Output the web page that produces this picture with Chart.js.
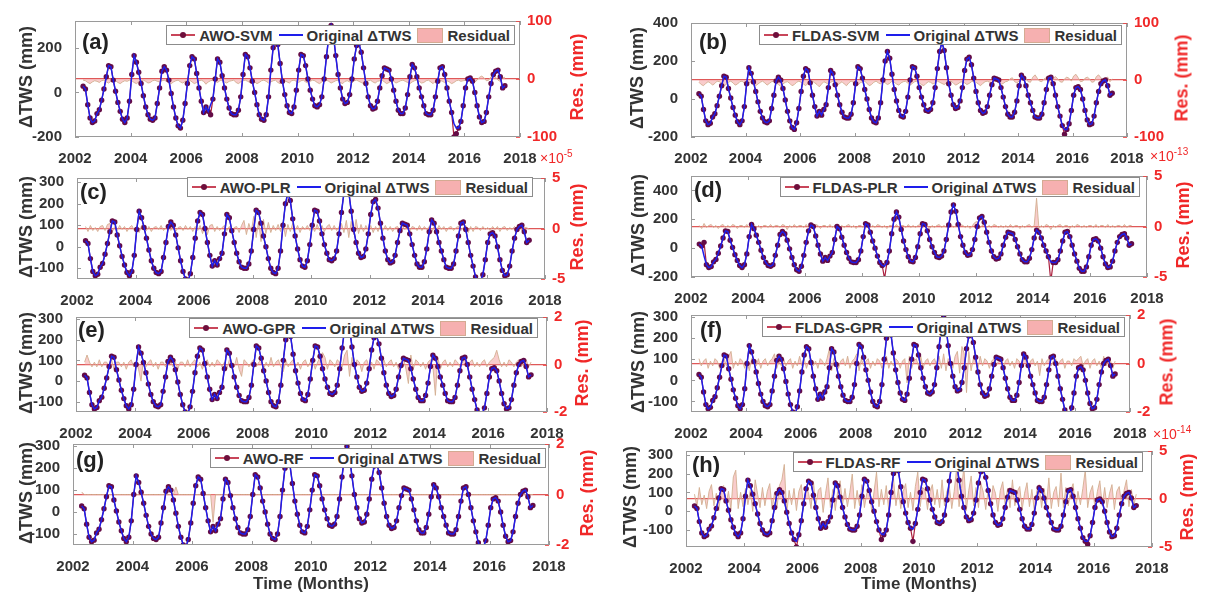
<!DOCTYPE html>
<html>
<head>
<meta charset="utf-8">
<script src="https://cdn.jsdelivr.net/npm/chart.js@4.4.1/dist/chart.umd.min.js"></script>
<style>
  body { margin: 0; width: 1207px; height: 594px; background: #fff; position: relative; overflow: hidden;
         font-family: "Liberation Sans", Arial, Helvetica, sans-serif; }
  canvas { position: absolute; }
  .leg { position: absolute; height: 20px; background: #fff; border: 1px solid #8c8c8c; box-sizing: border-box;
         display: flex; align-items: center; font-weight: bold; font-size: 15px; color: #333; padding: 0 4px 0 2px; white-space: nowrap; }
  .sm { position: relative; display: inline-block; width: 24px; height: 2px; background: rgb(200,70,90); margin: 0 4px 0 2px; }
  .sm i { position: absolute; left: 9px; top: -2px; width: 6px; height: 6px; border-radius: 50%; background: rgb(110,15,60); }
  .so { display: inline-block; width: 24px; height: 2px; background: rgb(30,30,235); margin: 0 4px 0 6px; }
  .sr { display: inline-block; width: 24px; height: 13px; background: #f6b0b0; border: 1px solid #d4aa92; margin: 0 4px 0 6px; }
  .tag { position: absolute; font-weight: bold; font-size: 22px; color: #222; transform: translateY(-50%); }
  .vt { position: absolute; font-weight: bold; font-size: 18px; white-space: nowrap; transform: translate(-50%, -50%) rotate(-90deg); }
  .xt { position: absolute; font-weight: bold; font-size: 17px; color: #333; white-space: nowrap; transform: translate(-50%, -50%); }
  .expo { position: absolute; font-size: 14px; color: rgb(240,40,40); white-space: nowrap; }
  .expo sup { font-size: 10px; }
</style>
</head>
<body>
<script>
// ---- data ----
var START_YEAR = 2002, START_MONTH = 4;   // first GRACE month (Apr 2002), monthly to Jun 2017
var X_TICKS = [2002, 2004, 2006, 2008, 2010, 2012, 2014, 2016, 2018];

// original ΔTWS (mm), one row per year
var TWS_ORIGINAL = [
  28, 15, -55, -115, -135, -128, -95, -78, -35,
  15, 70, 120, 115, 55, 5, -45, -85, -120, -135, -115, -40,
  80, 165, 135, 90, 40, -15, -65, -100, -120, -125, -115, -50,
  20, 95, 115, 100, 55, -5, -65, -115, -150, -160, -125, -50,
  40, 120, 160, 150, 85, 20, -40, -90, -65, -85, -55, -30,
  60, 150, 135, 75, 20, -30, -70, -95, -100, -100, -80, -20,
  80, 170, 160, 110, 50, 0, -55, -100, -120, -125, -100, -20,
  100, 200, 250, 215, 130, 50, -10, -60, -90, -95, -65, 10,
  100, 170, 165, 120, 60, 10, -30, -60, -65, -55, -20, 60,
  160, 250, 300, 255, 165, 80, 20, -30, -50, -45, -10, 60,
  150, 210, 220, 180, 110, 40, -20, -60, -75, -70, -40, 20,
  75, 110, 105, 100, 60, 10, -40, -80, -95, -95, -70, -10,
  70, 125, 110, 70, 20, -20, -60, -95, -100, -100, -80, -20,
  50, 110, 115, 80, 20, -40, -90, -140, -160, -160, -130, -60,
  20, 60, 65, 50, 0, -60, -110, -135, -130, -90, -20, 40,
  80, 95, 100, 70, 20, 30
];

// model predictions that visibly leave the original curve: [year, month, value]
var FIX_A = [[2006, 11, -100], [2008, 10, -125], [2015, 8, -200], [2015, 9, -185]];
var FIX_B = [[2015, 9, -185]];
var FIX_C = [];
var FIX_D = [[2002, 6, 40], [2008, 10, -210], [2014, 8, -230]];
var FIX_E = [];
var FIX_F = [];
var FIX_G = [];
var FIX_H = [[2005, 10, -190], [2008, 9, -150], [2009, 10, -160], [2015, 10, -175]];

// residuals (right axis units)
var RES_A = [
  -2, -3, -6, -8, -5, -3, -4, -6, -3,
  -2, -5, -7, -4, -2, -3, -6, -8, -5, -3, -4, -2,
  -3, -6, -8, -5, -3, -2, -4, -7, -6, -3, -2, -4,
  -5, -3, -2, -4, -6, -8, -5, -3, -2, -5, -7, -4,
  -3, -2, -5, -8, -6, -3, -2, -4, -9, -5, -3, -2,
  -4, -6, -3, -2, -5, -7, -4, -3, -2, -6, -8, -5,
  -3, -2, -4, -6, -3, -5, -8, -6, -3, -2, -4, -7,
  -5, -3, -2, -6, -8, -4, -3, -5, -7, -3, -2, -4,
  -6, -3, -2, -5, -7, -4, -2, -3, -6, -8, -5, -3,
  -2, -4, -7, -5, -3, -2, -6, -8, -4, -3, -5, -7,
  -3, -2, -4, -6, -8, -5, -3, -2, -5, -7, -4, -3,
  -2, -5, -8, -6, -3, -4, -7, -5, -3, -2, -4, -6,
  -8, -5, -3, -2, -4, -7, -6, -3, -2, -5, -8, -4,
  -3, -2, -4, -6, -3, -5, -8, -6, -3, -2, -4, -3,
  -2, 2, 4, -3, -5, -2, 3, 5, 2, -3, -2, 4,
  6, 3, -2, -4, 2, 3
];
var RES_B = [
  -4, -8, -10, -6, -3, -5, -9, -6, -2,
  -3, -6, -10, -8, -4, -2, -5, -9, -7, -3, -2, -6,
  -8, -5, -3, -6, -10, -7, -4, -2, -5, -9, -6, -3,
  -2, -5, -8, -11, -7, -4, -3, -6, -10, -8, -4, -2,
  -4, -7, -10, -6, -3, -2, -5, -8, -12, -7, -3, -5,
  -8, -4, -2, -5, -9, -6, -3, -7, -10, -5, -2, -4,
  -6, -9, -5, -3, -2, -6, -10, -8, -4, -2, -5, -7,
  -3, -5, -8, -6, -2, -4, -7, -9, -5, -3, -2, -6,
  -9, -6, -3, -2, -5, -8, -10, -6, -3, -4, -7, -5,
  -2, -4, -6, -8, -5, -3, -2, -5, -9, -7, -4, -3,
  -5, -8, -6, -3, -2, -4, -7, -10, -6, -3, -2, -4,
  -6, -3, -2, -5, -8, -6, -3, -2, 2, 4, -3, -5,
  -2, 3, 6, 2, -3, -4, 5, 9, 3, -2, -3, 2,
  4, -2, -5, 3, 6, 2, -3, -4, 2, 5, 3, -2,
  7, 10, 4, -3, -2, 3, 5, 2, -4, -3, 6, 9,
  4, -2, 3, 5, -3, 2
];
var RES_C = [
  0.2, -0.3, 0.3, -0.2, 0.1, -0.3, 0.2, 0.3, -0.2,
  0.4, 0.5, -0.3, 0.2, -0.2, 0.3, -0.1, 0.2, -0.3, 0.1, 0.3, -0.2,
  0.2, -0.4, 0.3, 0.1, -0.2, 0.2, -0.3, 0.1, 0.2, -0.1, 0.3, -0.2,
  0.1, 0.3, -0.2, 0.2, -0.3, 0.1, 0.2, -0.2, 0.3, -0.1, 0.2, -0.3,
  0.2, -0.2, 0.3, -0.5, 0.2, -0.6, 0.3, 0.4, -0.3, 0.2, -0.2, 0.1,
  0.3, -0.2, 0.2, -0.3, 0.1, 0.2, -0.4, 0.3, 0.8, -0.6, 0.5, -0.3,
  1.2, -0.9, 0.7, -1.3, 0.9, -0.5, 0.6, -0.4, 0.3, -0.2, 0.4, -0.3,
  0.6, -0.8, 0.4, -0.3, 0.5, -0.2, 0.3, -0.4, 0.2, -0.1, 0.3, -0.2,
  0.2, -0.3, 0.4, -0.2, 0.3, -0.3, 0.2, 0.4, -0.2, 0.3, -0.2, 0.2,
  0.5, -0.4, 0.8, -0.9, 0.7, -0.6, 0.9, -0.5, 0.4, -0.3, 0.3, -0.2,
  0.3, -0.4, 0.2, -0.3, 0.5, -0.2, 0.3, -0.2, 0.2, -0.3, 0.1, 0.2,
  -0.2, 0.3, -0.1, 0.2, -0.3, 0.2, 0.1, -0.2, 0.3, -0.2, 0.2, -0.1,
  0.2, -0.4, 0.2, -0.2, 0.3, -0.1, 0.2, -0.3, 0.1, 0.2, -0.2, 0.1,
  0.2, -0.2, 0.1, 0.3, -0.4, 0.2, -0.3, 0.2, 0.1, -0.2, 0.2, -0.1,
  0.1, -0.2, 0.2, -0.1, 0.2, -0.3, 0.1, 0.2, -0.2, 0.1, -0.1, 0.2,
  -0.1, 0.2, -0.2, 0.1, 0.1, -0.1
];
var RES_D = [
  0.1, -0.2, 0.3, -0.1, 0.1, 0.2, -0.1, 0.1, -0.2,
  0.1, 0.2, -0.1, 0.1, -0.1, 0.2, 0.1, -0.2, 0.1, 0.1, -0.1, 0.2,
  -0.1, 0.1, 0.2, -0.1, 0.1, -0.2, 0.1, 0.1, -0.1, 0.2, -0.1, 0.1,
  0.1, -0.1, 0.2, 0.1, -0.3, 0.1, -0.1, 0.2, -0.1, 0.1, 0.1, -0.1,
  0.2, -0.1, 0.1, -0.1, 0.2, 0.1, -0.2, 0.1, 0.1, -0.1, 0.2, -0.1,
  0.1, 0.2, -0.1, 0.1, -0.1, 0.1, 0.2, -0.1, 0.1, -0.2, 0.1, 0.1,
  -0.1, 0.2, 0.1, -0.1, 0.1, -0.1, 0.2, 0.1, -0.1, 0.1, -0.2, 0.1,
  0.1, -0.1, 0.2, -0.1, 0.1, 0.1, -0.1, 0.2, -0.1, 0.1, -0.1, 0.1,
  0.2, -0.1, 0.1, 0.1, -0.2, 0.1, -0.1, 0.1, 0.2, -0.1, 0.1, -0.1,
  0.1, 0.2, -0.1, 0.1, -0.1, 0.2, 0.1, -0.1, 0.1, -0.2, 0.1, 0.4,
  0.5, -0.2, 0.1, 0.2, -0.1, 0.1, -0.1, 0.2, 0.1, -0.1, 0.1, -0.1,
  0.1, -0.1, 0.2, -0.1, 0.1, 0.1, -0.2, 0.1, -0.1, 0.1, 0.2, -0.1,
  0.1, 2.8, -0.2, 0.1, -0.1, 0.2, 0.1, -0.3, 0.1, -0.1, 0.1, 0.2,
  -0.1, 0.1, 0.1, -0.2, 0.1, -0.1, 0.2, 0.1, -0.1, 0.1, -0.1, 0.1,
  0.1, -0.1, 0.2, -0.1, 0.1, 0.1, -0.1, 0.2, -0.1, 0.1, -0.1, 0.1,
  0.1, -0.1, 0.2, -0.1, 0.1, 0.1
];
var RES_E = [
  0.1, 0.4, 0.1, -0.1, 0.1, -0.1, 0.2, -0.1, 0.1,
  0.1, -0.1, 0.2, -0.2, 0.1, 0.1, -0.1, 0.1, -0.2, 0.1, 0.2, -0.1,
  0.1, -0.2, -0.7, 0.2, -0.1, 0.1, 0.2, -0.1, 0.1, -0.2, 0.1, 0.1,
  -0.1, 0.1, 0.2, -0.1, 0.1, -0.2, 0.1, 0.1, -0.1, 0.2, -0.1, 0.1,
  0.2, -0.1, 0.1, -0.2, 0.1, 0.2, -0.1, 0.1, -0.1, 0.2, 0.1, -0.1,
  0.1, -0.2, 0.2, 0.1, -0.1, 0.3, -0.2, -0.5, 0.2, 0.1, -0.1, 0.1,
  0.2, -0.1, 0.1, 0.2, -0.2, 0.1, -0.1, 0.3, -0.1, 0.1, 0.2, -0.1,
  -0.3, 0.2, -0.1, 0.1, 0.2, -0.1, 0.1, -0.2, 0.1, 0.2, -0.1, 0.1,
  0.2, -0.2, 0.1, 0.3, 0.5, 0.3, -0.2, 0.2, 0.1, -0.1, 0.2, 0.1,
  -0.1, 0.4, 0.6, -0.5, 0.3, -0.2, 0.2, 0.1, -0.3, 0.1, 0.2, -0.1,
  0.1, -0.2, 0.2, 0.1, -0.1, 0.2, -0.1, 0.1, 0.2, -0.1, 0.1, -0.2,
  0.1, 0.3, -0.2, -0.8, 0.4, -0.2, 0.2, 0.1, -0.1, 0.1, -0.2, 0.1,
  0.2, -0.1, -1.3, 0.3, -0.2, 0.1, 0.2, -0.1, 0.1, -0.1, 0.2, 0.1,
  -0.1, 0.1, 0.2, -0.1, 0.1, 0.2, -0.1, 0.1, -0.1, 0.1, 0.2, -0.1,
  0.1, 0.2, 0.3, 0.6, 0.2, -0.1, 0.1, -0.1, 0.2, 0.1, -0.1, 0.1,
  0.2, -0.1, 0.1, 0.2, -0.1, 0.1
];
var RES_F = [
  0.2, -0.1, 0.1, 0.2, -0.2, 0.1, -0.1, 0.2, 0.1,
  -0.2, 0.1, 0.2, -0.1, 0.3, 0.5, -0.2, 0.1, -0.1, 0.2, 0.1, -0.2,
  0.1, -0.3, 0.2, 0.1, -0.1, 0.2, -0.2, 0.1, 0.2, -0.1, 0.1, 0.2,
  0.4, -0.2, 0.1, -0.1, 0.2, -0.1, 0.1, 0.2, -0.2, 0.1, -0.1, 0.3,
  -0.1, 0.2, -0.2, 0.1, 0.2, -0.1, 0.1, -0.2, 0.2, 0.1, -0.1, 0.2,
  0.6, -0.3, 0.2, 0.1, -0.2, 0.1, 0.2, -0.1, 0.3, -0.2, 0.1, 0.2,
  0.4, -0.3, 0.2, -0.1, 0.1, 0.2, -0.2, 0.1, -0.1, 0.2, 0.1, -0.2,
  0.1, 0.3, -0.2, 0.1, -0.1, 0.2, 0.1, -0.2, 0.1, 0.2, -0.8, 0.3,
  -0.2, 0.1, 0.2, -0.1, 0.3, -0.2, 0.1, 0.2, -0.1, 0.1, 0.2, -0.1,
  0.3, -0.2, 0.4, -0.3, 0.2, 0.1, -0.2, 0.3, 0.5, -0.4, 0.7, 0.4,
  -1.2, 0.5, -0.3, 0.2, 0.1, -0.2, 0.3, -0.1, 0.2, 0.1, -0.2, 0.1,
  0.2, -0.1, 0.1, 0.3, -0.2, 0.1, 0.2, -0.1, 0.1, -0.2, 0.2, 0.1,
  -0.1, 0.2, 0.1, -0.2, 0.1, 0.2, -0.1, 0.1, -0.5, 0.2, -0.1, 0.1,
  0.2, -0.1, 0.1, 0.2, -0.1, 0.1, 0.2, -0.2, 0.1, 0.1, -0.1, 0.2,
  0.1, 0.2, 0.3, -0.1, 0.1, 0.2, -0.2, 0.1, 0.2, -0.1, 0.1, -0.2,
  0.3, -0.1, 0.2, 0.1, -0.2, 0.1
];
// (g) is flat apart from a few spikes: [year, month, value]
var RES_G_SPIKES = [[2002, 4, 0.1], [2005, 6, 0.3], [2006, 9, -1.1], [2009, 1, 0.05]];
var RES_H = [
  0.5, -0.8, 1.2, -0.6, 0.4, -1.0, 0.8, 1.5, -0.7,
  0.6, -1.2, 0.9, 1.4, -0.5, 0.8, -1.1, 2.3, 3.0, -1.0, 0.7, -0.8,
  1.1, -0.6, 0.9, -1.3, 2.0, 0.5, -0.9, 1.2, -0.7, 0.8, 1.6, -1.1,
  0.7, -0.9, 1.4, 2.0, 3.6, -1.5, 0.9, -0.6, 1.1, -1.2, 0.8, 1.5,
  -0.8, 1.3, 0.6, -1.0, 1.8, -0.7, 0.9, 1.2, -1.4, 0.6, 2.2, -0.9,
  1.0, -1.2, 0.8, 1.9, -0.6, 1.1, -0.8, 0.7, 2.6, -1.0, 0.9, -0.7,
  1.5, -0.9, 0.6, 1.2, -1.3, 0.8, 2.8, -0.8, 1.0, -0.6, 1.4, -1.1,
  0.9, 2.1, -0.7, 1.1, -1.0, 0.8, 1.6, -0.9, 0.7, -1.2, 1.3, 2.8,
  -0.8, 1.2, 0.9, -1.1, 0.7, 1.5, -0.6, 1.0, -0.9, 2.0, -0.7, 0.8,
  1.3, -1.0, 0.8, 3.2, -0.8, 1.1, 3.3, -1.2, 0.9, 2.4, -0.7, 1.2,
  -0.9, 1.6, 0.7, -1.1, 1.0, -0.8, 1.4, 0.6, -1.3, 0.9, 1.8, -0.6,
  1.1, -0.9, 2.0, -0.7, 0.8, 1.3, -1.1, 0.6, 1.7, -0.8, 1.0, -1.2,
  0.8, 1.5, -0.9, 1.1, -0.6, 2.2, -1.0, 0.7, 1.3, -0.8, 2.7, -0.9,
  1.2, -0.7, 0.9, 1.6, -1.2, 0.8, -0.6, 1.1, 3.0, -0.9, 0.7, 1.4,
  -1.0, 0.8, 1.9, -0.7, 1.2, -0.9, 0.6, 1.5, -1.1, 0.8, 1.3, -0.6,
  0.9, 2.0, -0.8, 1.0, -0.7, 0.5
];

var Y_TICKS_A = [-200, 0, 200];
var Y_TICKS_B = [-200, 0, 200, 400];
var Y_TICKS_C = [-100, 0, 100, 200, 300];
var Y_TICKS_D = [-200, 0, 200, 400];
var Y_TICKS_EFG = [-100, 0, 100, 200, 300];
var R_TICKS_SVM = [-100, 0, 100];
var R_TICKS_5 = [-5, 0, 5];
var R_TICKS_2 = [-2, 0, 2];

var PANELS = [
  { key: 'a', model: 'AWO-SVM',   fix: FIX_A, res: RES_A, yMin: -200, yMax: 320, yTicks: Y_TICKS_A,   rMax: 100, rTicks: R_TICKS_SVM, expo: null },
  { key: 'b', model: 'FLDAS-SVM', fix: FIX_B, res: RES_B, yMin: -200, yMax: 400, yTicks: Y_TICKS_B,   rMax: 100, rTicks: R_TICKS_SVM, expo: null },
  { key: 'c', model: 'AWO-PLR',   fix: FIX_C, res: RES_C, yMin: -150, yMax: 320, yTicks: Y_TICKS_C,   rMax: 5,   rTicks: R_TICKS_5,   expo: '-5' },
  { key: 'd', model: 'FLDAS-PLR', fix: FIX_D, res: RES_D, yMin: -200, yMax: 500, yTicks: Y_TICKS_D,   rMax: 5,   rTicks: R_TICKS_5,   expo: '-13' },
  { key: 'e', model: 'AWO-GPR',   fix: FIX_E, res: RES_E, yMin: -150, yMax: 310, yTicks: Y_TICKS_EFG, rMax: 2,   rTicks: R_TICKS_2,   expo: null },
  { key: 'f', model: 'FLDAS-GPR', fix: FIX_F, res: RES_F, yMin: -150, yMax: 310, yTicks: Y_TICKS_EFG, rMax: 2,   rTicks: R_TICKS_2,   expo: null },
  { key: 'g', model: 'AWO-RF',    fix: FIX_G, res: null,  yMin: -150, yMax: 310, yTicks: Y_TICKS_EFG, rMax: 2,   rTicks: R_TICKS_2,   expo: null },
  { key: 'h', model: 'FLDAS-RF',  fix: FIX_H, res: RES_H, yMin: -190, yMax: 320, yTicks: Y_TICKS_EFG, rMax: 5,   rTicks: R_TICKS_5,   expo: '-14' }
];

// ---- layout (page pixels) ----
var LAYOUT = {
  a: { x: 75,  y: 17,  w: 445, h: 120, leg: [515, 25],  tag: [82, 42],   tws: 26,  res: 577 },
  b: { x: 691, y: 19,  w: 436, h: 118, leg: [1122, 25], tag: [699, 42],  tws: 637, res: 1182 },
  c: { x: 77,  y: 174, w: 468, h: 105, leg: [533, 177], tag: [80, 192],  tws: 26,  res: 577,  expo: [540, 148] },
  d: { x: 691, y: 172, w: 456, h: 105, leg: [1140, 177], tag: [694, 190], tws: 638, res: 1183, expo: [1150, 146] },
  e: { x: 76,  y: 313, w: 471, h: 99,  leg: [538, 318], tag: [78, 330],  tws: 26,  res: 582 },
  f: { x: 691, y: 311, w: 439, h: 101, leg: [1125, 317], tag: [700, 330], tws: 638, res: 1167 },
  g: { x: 73,  y: 440, w: 476, h: 105, leg: [546, 448], tag: [76, 460],  tws: 26,  res: 587 },
  h: { x: 686, y: 447, w: 466, h: 100, leg: [1143, 452], tag: [692, 465], tws: 630, res: 1187, expo: [1153, 424] }
};
var PAD = { l: 75, r: 70, t: 12, b: 32 };
var FONT = '"Liberation Sans", Arial, Helvetica, sans-serif';
var RED = 'rgb(240,40,40)';

Chart.defaults.font.family = FONT;

function monthX(i) {
  return START_YEAR + (START_MONTH - 1 + i + 0.5) / 12;
}
function monthIndex(y, m) {
  return (y - START_YEAR) * 12 + (m - START_MONTH);
}
function toPoints(values) {
  return values.map(function (v, i) { return { x: monthX(i), y: v }; });
}

// MATLAB-like box with small inward ticks
var boxPlugin = {
  id: 'box',
  afterDatasetsDraw: function (chart) {
    var a = chart.chartArea, c = chart.ctx, s = chart.scales;
    c.save();
    c.strokeStyle = '#9a9a9a';
    c.lineWidth = 1;
    c.strokeRect(a.left + 0.5, a.top + 0.5, a.right - a.left - 1, a.bottom - a.top - 1);
    c.beginPath();
    s.x.ticks.forEach(function (t) {
      var px = Math.round(s.x.getPixelForValue(t.value)) + 0.5;
      c.moveTo(px, a.bottom); c.lineTo(px, a.bottom - 4);
      c.moveTo(px, a.top); c.lineTo(px, a.top + 4);
    });
    s.y.ticks.forEach(function (t) {
      var py = Math.round(s.y.getPixelForValue(t.value)) + 0.5;
      c.moveTo(a.left, py); c.lineTo(a.left + 4, py);
    });
    c.stroke();
    c.strokeStyle = 'rgba(240,60,60,0.8)';
    c.beginPath();
    s.y2.ticks.forEach(function (t) {
      var py = Math.round(s.y2.getPixelForValue(t.value)) + 0.5;
      c.moveTo(a.right, py); c.lineTo(a.right - 4, py);
    });
    c.stroke();
    c.restore();
  }
};

function addEl(cls, html, css) {
  var d = document.createElement('div');
  d.className = cls;
  d.innerHTML = html;
  for (var k in css) d.style[k] = css[k];
  document.body.appendChild(d);
  return d;
}

function makePanel(p) {
  var g = LAYOUT[p.key];
  var W = g.w + PAD.l + PAD.r, H = g.h + PAD.t + PAD.b;
  var cv = document.createElement('canvas');
  cv.width = W; cv.height = H;
  cv.style.left = (g.x - PAD.l) + 'px';
  cv.style.top = (g.y - PAD.t) + 'px';
  document.body.appendChild(cv);

  var model = TWS_ORIGINAL.slice();
  p.fix.forEach(function (f) { model[monthIndex(f[0], f[1])] = f[2]; });

  var res = p.res;
  if (!res) {
    res = TWS_ORIGINAL.map(function () { return 0; });
    RES_G_SPIKES.forEach(function (f) { res[monthIndex(f[0], f[1])] = f[2]; });
  }

  var tickFont = { size: 15, weight: 'bold' };

  new Chart(cv.getContext('2d'), {
    type: 'line',
    data: {
      datasets: [
        { label: 'Original ΔTWS', data: toPoints(TWS_ORIGINAL), yAxisID: 'y', order: 0,
          borderColor: 'rgb(30,30,235)', borderWidth: 1.5, pointRadius: 0, tension: 0 },
        { label: p.model, data: toPoints(model), yAxisID: 'y', order: 1,
          borderColor: 'rgb(170,30,60)', borderWidth: 1.2, tension: 0,
          pointRadius: 2.7, pointBorderWidth: 0, pointBackgroundColor: 'rgb(100,12,70)' },
        // residual as a filled area around zero
        { label: 'Residual', data: toPoints(res), yAxisID: 'y2', order: 2,
          fill: { target: { value: 0 } }, backgroundColor: 'rgba(245,170,170,0.6)',
          borderColor: 'rgb(210,175,145)', borderWidth: 0.9, pointRadius: 0, tension: 0 }
      ]
    },
    options: {
      responsive: false,
      animation: false,
      layout: { padding: { top: PAD.t, left: 0, right: 0, bottom: 0 } },
      plugins: { legend: { display: false }, tooltip: { enabled: false } },
      scales: {
        x: {
          type: 'linear', min: 2002, max: 2018, offset: false,
          afterBuildTicks: function (s) { s.ticks = X_TICKS.map(function (v) { return { value: v }; }); },
          afterFit: function (s) { s.height = PAD.b; },
          ticks: { autoSkip: false, maxRotation: 0, padding: 5, font: tickFont, color: '#333',
                   callback: function (v) { return String(v); } },
          grid: { display: false }, border: { display: false }
        },
        y: {
          position: 'left', min: p.yMin, max: p.yMax,
          afterBuildTicks: function (s) { s.ticks = p.yTicks.map(function (v) { return { value: v }; }); },
          afterFit: function (s) { s.width = PAD.l; },
          ticks: { padding: 5, font: tickFont, color: '#333' },
          grid: { display: false }, border: { display: false }
        },
        y2: {
          position: 'right', min: -p.rMax, max: p.rMax,
          afterBuildTicks: function (s) { s.ticks = p.rTicks.map(function (v) { return { value: v }; }); },
          afterFit: function (s) { s.width = PAD.r; },
          ticks: { padding: 7, font: tickFont, color: RED },
          grid: { drawTicks: false, lineWidth: 1.2,
                  color: function (ctx) { return ctx.tick && ctx.tick.value === 0 ? 'rgba(220,70,70,0.9)' : 'rgba(0,0,0,0)'; } },
          border: { display: false }
        }
      }
    },
    plugins: [boxPlugin]
  });

  // legend (drawn over the data, like the opaque MATLAB legend)
  addEl('leg',
    '<span class="sm"><i></i></span><span>' + p.model + '</span>' +
    '<span class="so"></span><span>Original ΔTWS</span>' +
    '<span class="sr"></span><span>Residual</span>',
    { right: (1207 - g.leg[0]) + 'px', top: g.leg[1] + 'px' });

  addEl('tag', '(' + p.key + ')', { left: g.tag[0] + 'px', top: g.tag[1] + 'px' });
  addEl('vt', 'ΔTWS (mm)', { left: g.tws + 'px', top: (g.y + g.h / 2) + 'px', color: '#333' });
  addEl('vt', 'Res. (mm)', { left: g.res + 'px', top: (g.y + g.h / 2) + 'px', color: RED });
  if (p.expo) {
    addEl('expo', '×10<sup>' + p.expo + '</sup>', { left: g.expo[0] + 'px', top: g.expo[1] + 'px' });
  }
}

PANELS.forEach(makePanel);

addEl('xt', 'Time (Months)', { left: (LAYOUT.g.x + LAYOUT.g.w / 2) + 'px', top: '584px' });
addEl('xt', 'Time (Months)', { left: (LAYOUT.h.x + LAYOUT.h.w / 2) + 'px', top: '584px' });
</script>
</body>
</html>
